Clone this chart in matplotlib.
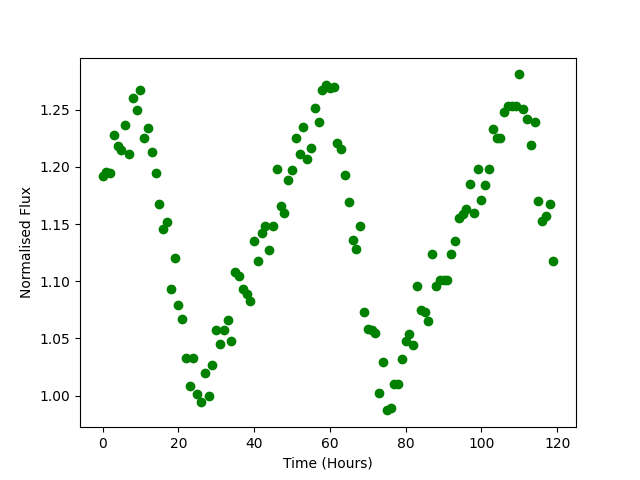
import numpy as np
import matplotlib
matplotlib.use("Agg")
import matplotlib.pyplot as plt

hours = list(range(120))
flux = [
    1.192, 1.196, 1.195, 1.228, 1.218, 1.215, 1.237, 1.211, 1.260, 1.250,
    1.267, 1.225, 1.234, 1.213, 1.195, 1.168, 1.146, 1.152, 1.093, 1.120,
    1.079, 1.067, 1.033, 1.008, 1.033, 1.001, 0.994, 1.020, 1.000, 1.027,
    1.057, 1.045, 1.057, 1.066, 1.048, 1.108, 1.105, 1.093, 1.089, 1.083,
    1.135, 1.118, 1.142, 1.148, 1.127, 1.148, 1.198, 1.166, 1.160, 1.189,
    1.197, 1.225, 1.211, 1.235, 1.207, 1.217, 1.252, 1.239, 1.267, 1.272,
    1.269, 1.270, 1.221, 1.216, 1.193, 1.169, 1.136, 1.128, 1.148, 1.073,
    1.058, 1.057, 1.055, 1.002, 1.029, 0.987, 0.989, 1.010, 1.010, 1.032,
    1.048, 1.054, 1.044, 1.096, 1.075, 1.073, 1.065, 1.124, 1.096, 1.101,
    1.101, 1.101, 1.124, 1.135, 1.155, 1.159, 1.163, 1.185, 1.160, 1.198,
    1.171, 1.184, 1.198, 1.233, 1.225, 1.225, 1.248, 1.253, 1.253, 1.253,
    1.281, 1.251, 1.242, 1.219, 1.239, 1.170, 1.153, 1.157, 1.168, 1.118,
]

fig, ax = plt.subplots(figsize=(6.4, 4.8), dpi=100)
ax.plot(hours, flux, 'o', color='green')
ax.set_xlabel("Time (Hours)")
ax.set_ylabel("Normalised Flux")
fig.savefig("out.png")
